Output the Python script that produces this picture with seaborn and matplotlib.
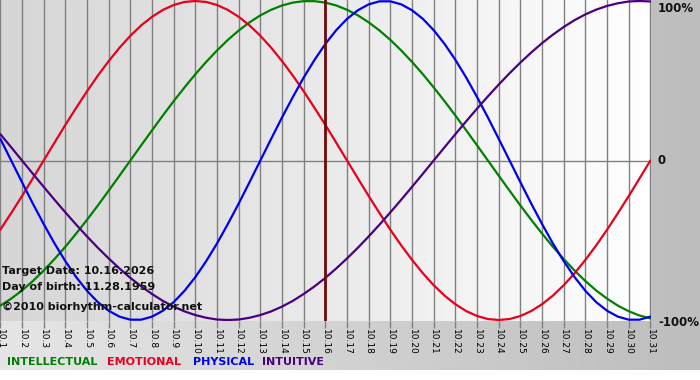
import numpy as np
import pandas as pd
import matplotlib
matplotlib.use("Agg")
import matplotlib.pyplot as plt
import seaborn as sns

days = list(range(1, 32))
day_labels = [f"10.{d}" for d in days]
# curves every half day (10.1, 10.1½, 10.2, ... 10.31)
sample_days = [d / 2 for d in range(2, 63)]

physical = [0.136, 0.000, -0.136, -0.270, -0.398, -0.520, -0.631, -0.731, -0.817, -0.888,
            -0.942, -0.979, -0.998, -0.998, -0.979, -0.942, -0.888, -0.817, -0.731, -0.631,
            -0.520, -0.398, -0.270, -0.136, 0.000, 0.136, 0.270, 0.398, 0.520, 0.631,
            0.731, 0.817, 0.888, 0.942, 0.979, 0.998, 0.998, 0.979, 0.942, 0.888,
            0.817, 0.731, 0.631, 0.520, 0.398, 0.270, 0.136, 0.000, -0.136, -0.270,
            -0.398, -0.520, -0.631, -0.731, -0.817, -0.888, -0.942, -0.979, -0.998, -0.998, -0.979]
emotional = [-0.434, -0.330, -0.223, -0.112, 0.000,
             0.112, 0.223, 0.330, 0.434, 0.532, 0.623, 0.707, 0.782, 0.847, 0.901, 0.944, 0.975, 0.994, 1.000,
             0.994, 0.975, 0.944, 0.901, 0.847, 0.782, 0.707, 0.623, 0.532, 0.434, 0.330, 0.223, 0.112, 0.000,
             -0.112, -0.223, -0.330, -0.434, -0.532, -0.623, -0.707, -0.782, -0.847, -0.901, -0.944, -0.975, -0.994, -1.000,
             -0.994, -0.975, -0.944, -0.901, -0.847, -0.782, -0.707, -0.623, -0.532, -0.434, -0.330, -0.223, -0.112, 0.000]
intellectual = [-0.910, -0.866, -0.815, -0.756, -0.690, -0.618, -0.541, -0.458, -0.372, -0.282, -0.189, -0.095, 0.000,
                0.095, 0.189, 0.282, 0.372, 0.458, 0.541, 0.618, 0.690, 0.756, 0.815, 0.866, 0.910, 0.945, 0.972, 0.990, 0.999,
                0.999, 0.990, 0.972, 0.945, 0.910, 0.866, 0.815, 0.756, 0.690, 0.618, 0.541, 0.458, 0.372, 0.282, 0.189, 0.095, 0.000,
                -0.095, -0.189, -0.282, -0.372, -0.458, -0.541, -0.618, -0.690, -0.756, -0.815, -0.866, -0.910, -0.945, -0.972, -0.990]
intuitive = [0.165, 0.083, 0.000,
             -0.083, -0.165, -0.246, -0.325, -0.402, -0.476, -0.547, -0.614, -0.677, -0.736, -0.789, -0.837, -0.880, -0.916, -0.946, -0.969, -0.986, -0.997, -1.000,
             -0.997, -0.986, -0.969, -0.946, -0.916, -0.880, -0.837, -0.789, -0.736, -0.677, -0.614, -0.547, -0.476, -0.402, -0.325, -0.246, -0.165, -0.083, 0.000,
             0.083, 0.165, 0.246, 0.325, 0.402, 0.476, 0.547, 0.614, 0.677, 0.736, 0.789, 0.837, 0.880, 0.916, 0.946, 0.969, 0.986, 0.997, 1.000, 0.997]

target_day = 16
series_names = ["INTELLECTUAL", "EMOTIONAL", "PHYSICAL", "INTUITIVE"]
series_colors = ["#008000", "#e8001c", "#0000f0", "#4b0082"]
right_labels = ["100%", "0", "-100%"]
info_lines = ["Target Date: 10.16.2026", "Day of birth: 11.28.1959",
              "\u00a92010 biorhythm-calculator.net"]

df = pd.DataFrame({
    "day": sample_days * 4,
    "value": intellectual + emotional + physical + intuitive,
    "rhythm": sum([[n] * len(sample_days) for n in series_names], []),
})

sns.set_theme(style="white")
plt.rcParams['font.family'] = ['DejaVu Sans']

W, H = 700, 380
fig = plt.figure(figsize=(W / 100, H / 100), dpi=100)

# figure background gradient (light left -> grey right), white strip at bottom
bg = fig.add_axes([0, 10 / H, 1, 370 / H], zorder=0)
grad = np.linspace(0, 1, 256).reshape(1, -1)
bg.imshow(grad, aspect="auto", cmap=matplotlib.colors.LinearSegmentedColormap.from_list(
    "bg", ["#e6e6e6", "#bdbdbd"]), extent=[0, 1, 0, 1])
bg.set_axis_off()

ax = fig.add_axes([0, (H - 321) / H, 651 / W, 321 / H], zorder=1)
ax.imshow(grad, aspect="auto", cmap=matplotlib.colors.LinearSegmentedColormap.from_list(
    "pa", ["#d6d6d6", "#ffffff"]), extent=[0, 1, 0, 1], transform=ax.transAxes, zorder=0)

ax.set_xlim(1 - 0.33 / 21.67, 31 + 0.6 / 21.67)
ax.set_ylim(-1 - 1 / 159.5, 1 + 1 / 159.5)

for d in days:
    ax.axvline(d, color="#808080", lw=1.0, zorder=1)
ax.axhline(0, color="#808080", lw=1.0, zorder=1)

sns.lineplot(data=df, x="day", y="value", hue="rhythm", palette=series_colors,
             hue_order=series_names, ax=ax, legend=False, lw=1.6, zorder=3,
             estimator=None, sort=False)

ax.axvline(target_day, color="#6e0a0a", lw=2.0, zorder=4)

for s in ax.spines.values():
    s.set_visible(False)
ax.set_xlabel("")
ax.set_ylabel("")
ax.set_yticks([])
ax.set_xticks(days)
ax.set_xticklabels(day_labels, rotation=270, fontsize=6.5, color="black")
ax.tick_params(axis="x", length=5, width=1, color="#808080", pad=1, bottom=True)

# right side labels (fig pixel y positions of label centres)
right_px = [9, 161, 322]
for lab, ypx in zip(right_labels, right_px):
    fig.text(658 / W, 1 - ypx / H, lab, ha="left", va="center", fontsize=8.5,
             fontweight="bold", color="#111111", zorder=5)

# info texts
for txt, ypx in zip(info_lines, [271, 287, 307]):
    fig.text(2 / W, 1 - ypx / H, txt, ha="left", va="center", fontsize=8,
             fontweight="bold", color="#111111", zorder=5)

# legend
xpos = [7, 107, 193, 262]
for name, col, xp in zip(series_names, series_colors, xpos):
    fig.text(xp / W, 1 - 362 / H, name, ha="left", va="center", fontsize=8,
             fontweight="bold", color=col)

fig.savefig("out.png", dpi=100)
